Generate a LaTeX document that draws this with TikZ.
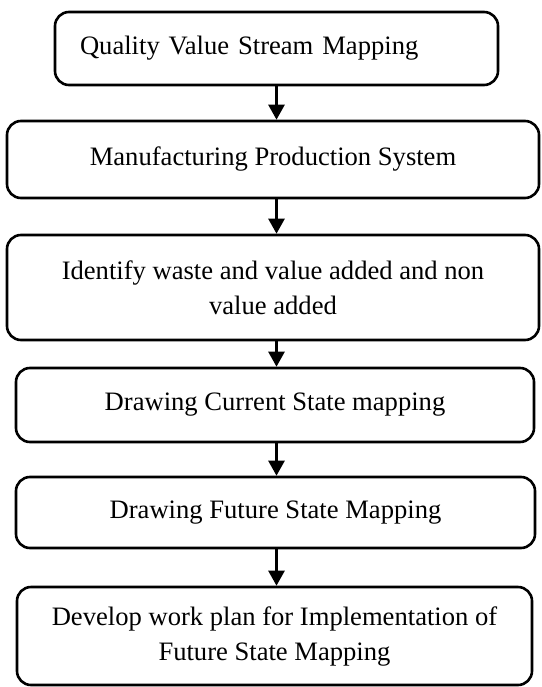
\documentclass[tikz,border=0pt]{standalone}
\usepackage{fontspec}
\setmainfont{Liberation Serif}
\usetikzlibrary{arrows.meta}

\begin{document}
\begin{tikzpicture}[x=1pt,y=-1pt,
        stage/.style={draw,line width=2.6pt,rounded corners=14pt,inner sep=0pt,
            align=center,font=\fontsize{26.6}{35}\selectfont},
        flow/.style={-{Triangle[width=16pt,length=15pt]},line width=2.6pt}
    ]
        \useasboundingbox (0,0) rectangle (541,687);
        \node[stage,minimum width=443pt,minimum height=73pt,text width=393pt,align=left]
            (qvsm) at (276.5,48.5) {Quality Value Stream Mapping};
        \node[stage,minimum width=532pt,minimum height=77pt]
            (mps) at (273,159.5) {Manufacturing Production System};
        \node[stage,minimum width=532pt,minimum height=105pt]
            (waste) at (273,287.5) {Identify waste and value added and non\\value added};
        \node[stage,minimum width=518pt,minimum height=74pt]
            (csm) at (275,405) {Drawing Current State mapping};
        \node[stage,minimum width=519pt,minimum height=71pt]
            (fsm) at (275.5,512.5) {Drawing Future State Mapping};
        \node[stage,minimum width=515pt,minimum height=98pt]
            (plan) at (274.5,636) {Develop work plan for Implementation of\\Future State Mapping};
        \draw[flow] (qvsm.south) -- (qvsm.south |- mps.north);
        \draw[flow] (qvsm.south |- mps.south) -- (qvsm.south |- waste.north);
        \draw[flow] (qvsm.south |- waste.south) -- (qvsm.south |- csm.north);
        \draw[flow] (qvsm.south |- csm.south) -- (qvsm.south |- fsm.north);
        \draw[flow] (qvsm.south |- fsm.south) -- (qvsm.south |- plan.north);
    \end{tikzpicture}
\end{document}
